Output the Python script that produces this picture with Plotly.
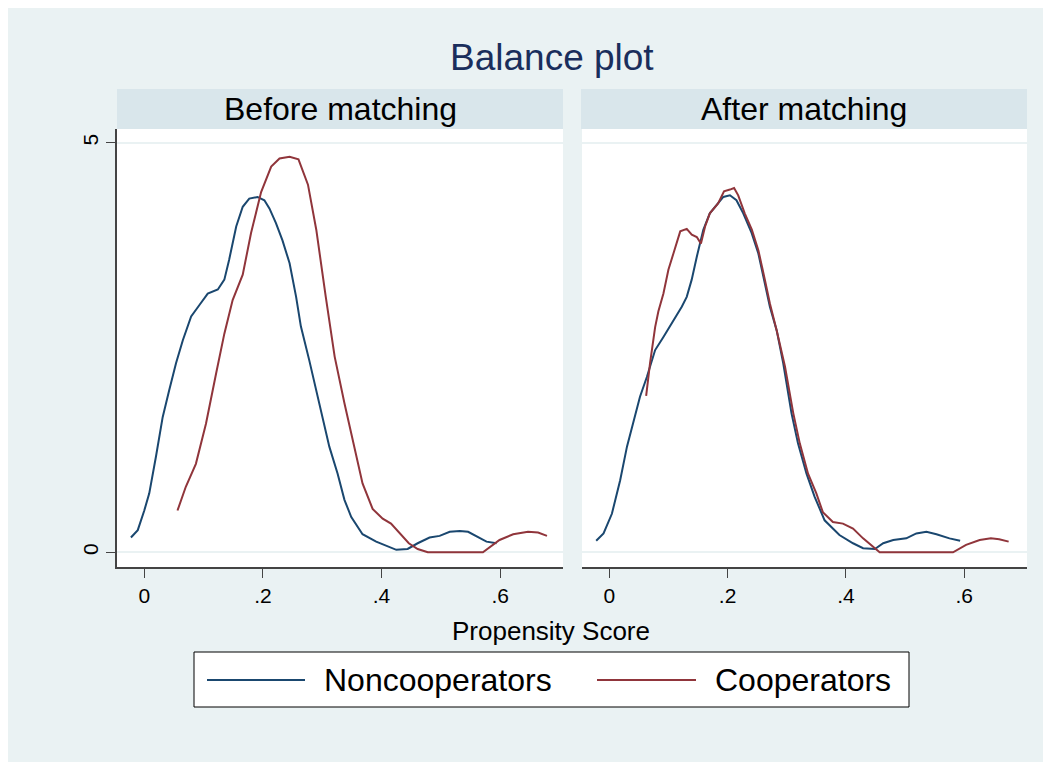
import plotly.graph_objects as go

# Kernel density of the propensity score
before_non_x = [-0.0225, -0.011, 0.0, 0.0084, 0.0197, 0.031, 0.042, 0.0535, 0.065, 0.079, 0.093,
                0.107, 0.124, 0.135, 0.143, 0.155, 0.166, 0.177, 0.191, 0.2025, 0.211, 0.222,
                0.233, 0.245, 0.256, 0.264, 0.278, 0.29, 0.301, 0.312, 0.326, 0.3375, 0.349,
                0.368, 0.391, 0.4135, 0.425, 0.444, 0.461, 0.481, 0.498, 0.515, 0.532, 0.546,
                0.562, 0.577, 0.594]
before_non_y = [0.18, 0.27, 0.51, 0.72, 1.17, 1.65, 1.98, 2.31, 2.59, 2.88, 3.02,
                3.16, 3.21, 3.33, 3.57, 3.98, 4.22, 4.32, 4.34, 4.30, 4.20, 4.02,
                3.81, 3.53, 3.12, 2.76, 2.35, 1.98, 1.65, 1.29, 0.96, 0.64, 0.43,
                0.22, 0.13, 0.07, 0.03, 0.04, 0.11, 0.18, 0.20, 0.25, 0.26, 0.25,
                0.19, 0.13, 0.11]

before_coop_x = [0.056, 0.070, 0.087, 0.104, 0.121, 0.135, 0.149, 0.166, 0.180, 0.197, 0.214,
                 0.228, 0.245, 0.26, 0.276, 0.29, 0.306, 0.321, 0.3375, 0.354, 0.368, 0.385,
                 0.402, 0.416, 0.436, 0.446, 0.461, 0.478, 0.50, 0.53, 0.571, 0.599, 0.622,
                 0.647, 0.664, 0.679]
before_coop_y = [0.51, 0.80, 1.08, 1.57, 2.18, 2.67, 3.08, 3.39, 3.90, 4.40, 4.71,
                 4.81, 4.83, 4.80, 4.49, 3.94, 3.12, 2.39, 1.82, 1.29, 0.84, 0.53,
                 0.41, 0.35, 0.19, 0.11, 0.04, 0.0, 0.0, 0.0, 0.0, 0.15, 0.22,
                 0.25, 0.24, 0.20]

after_non_x = [-0.022, -0.0096, 0.0045, 0.0185, 0.030, 0.041, 0.052, 0.0636, 0.0776, 0.0916,
               0.1057, 0.1226, 0.131, 0.1394, 0.148, 0.159, 0.170, 0.1816, 0.1928, 0.204,
               0.215, 0.2265, 0.2406, 0.252, 0.263, 0.2715, 0.283, 0.294, 0.308, 0.319,
               0.3334, 0.347, 0.364, 0.389, 0.412, 0.429, 0.449, 0.463, 0.48, 0.502,
               0.519, 0.536, 0.553, 0.575, 0.593]
after_non_y = [0.14, 0.23, 0.47, 0.88, 1.29, 1.61, 1.90, 2.14, 2.47, 2.63,
               2.80, 3.00, 3.12, 3.33, 3.61, 3.94, 4.14, 4.24, 4.34, 4.36,
               4.30, 4.14, 3.90, 3.65, 3.28, 3.00, 2.71, 2.31, 1.70, 1.33,
               0.96, 0.68, 0.39, 0.21, 0.11, 0.05, 0.04, 0.11, 0.15, 0.17,
               0.23, 0.25, 0.22, 0.17, 0.14]

after_coop_x = [0.0624, 0.069, 0.0776, 0.083, 0.0916, 0.100, 0.1085, 0.120, 0.131, 0.1395,
                0.148, 0.155, 0.162, 0.170, 0.184, 0.194, 0.204, 0.211, 0.218, 0.229,
                0.241, 0.252, 0.263, 0.2715, 0.283, 0.297, 0.311, 0.322, 0.336, 0.350,
                0.361, 0.378, 0.395, 0.412, 0.429, 0.449, 0.457, 0.50, 0.54, 0.581,
                0.603, 0.626, 0.645, 0.659, 0.675]
after_coop_y = [1.91, 2.31, 2.75, 2.94, 3.16, 3.45, 3.65, 3.92, 3.95, 3.88,
                3.85, 3.77, 3.98, 4.14, 4.26, 4.41, 4.43, 4.45, 4.36, 4.14,
                3.94, 3.69, 3.33, 3.04, 2.71, 2.27, 1.70, 1.33, 0.96, 0.72,
                0.49, 0.37, 0.35, 0.29, 0.17, 0.05, 0.0, 0.0, 0.0, 0.0,
                0.09, 0.15, 0.17, 0.16, 0.13]

x_ticks = [0, 0.2, 0.4, 0.6]
x_tick_labels = ["0", ".2", ".4", ".6"]
y_ticks = [0, 5]

NAVY = "#1a476f"
MAROON = "#90353b"
BG = "#eaf2f3"
STRIP = "#d9e6eb"
FONT = "Arial, Liberation Sans, sans-serif"

# the page adds an 8px body margin; positions below are page pixels
OFF = 8
W, H = 1051, 754
L, T = 117 - OFF, 129 - OFF
R = W - (1027 - OFF)
B = H - (567 - OFF)
PW, PH = W - L - R, H - T - B


def px(x):
    return (x - OFF - L) / PW


def py(y):
    return (H - B - (y - OFF)) / PH


fig = go.Figure()

panels = [
    ("x", "y", before_non_x, before_non_y, before_coop_x, before_coop_y),
    ("x2", "y2", after_non_x, after_non_y, after_coop_x, after_coop_y),
]
for xa, ya, nx, ny, cx, cy in panels:
    fig.add_trace(go.Scatter(x=nx, y=ny, mode="lines", name="Noncooperators",
                             line=dict(color=NAVY, width=2), xaxis=xa, yaxis=ya,
                             showlegend=False))
    fig.add_trace(go.Scatter(x=cx, y=cy, mode="lines", name="Cooperators",
                             line=dict(color=MAROON, width=2), xaxis=xa, yaxis=ya,
                             showlegend=False))

xaxis_common = dict(
    range=[-0.046, 0.706], tickvals=x_ticks, ticktext=x_tick_labels,
    showline=True, linecolor="#444444", linewidth=1.5,
    ticks="outside", ticklen=9, tickcolor="#444444", tickwidth=1.2,
    showgrid=False, zeroline=False,
    tickfont=dict(family=FONT, size=21, color="black"),
)
yaxis_common = dict(
    range=[-0.18, 5.17], tickvals=y_ticks,
    showgrid=True, gridcolor=BG, gridwidth=2, zeroline=False,
)

fig.update_layout(
    width=W, height=H,
    margin=dict(l=L, r=R, t=T, b=B),
    paper_bgcolor=BG, plot_bgcolor="white",
    showlegend=False,
    xaxis=dict(domain=[0, px(563)], anchor="y", **xaxis_common),
    xaxis2=dict(domain=[px(582), 1], anchor="y2", **xaxis_common),
    yaxis=dict(anchor="x", showline=True, linecolor="#444444", linewidth=1.5,
               ticks="outside", ticklen=9, tickcolor="#444444", tickwidth=1.2,
               tickangle=-90, tickfont=dict(family=FONT, size=21, color="black"),
               **yaxis_common),
    yaxis2=dict(anchor="x2", showline=False, ticks="", showticklabels=False,
                **yaxis_common),
)

shapes = [
    # panel strips
    dict(type="rect", xref="paper", yref="paper", x0=px(117), x1=px(563), y0=py(129), y1=py(89),
         fillcolor=STRIP, line=dict(width=0)),
    dict(type="rect", xref="paper", yref="paper", x0=px(581), x1=px(1027), y0=py(129), y1=py(89),
         fillcolor=STRIP, line=dict(width=0)),
    # legend box and keys
    dict(type="rect", xref="paper", yref="paper", x0=px(194), x1=px(909), y0=py(707), y1=py(652),
         fillcolor="white", line=dict(color="black", width=1)),
    dict(type="line", xref="paper", yref="paper", x0=px(207), x1=px(305), y0=py(680), y1=py(680),
         line=dict(color=NAVY, width=2)),
    dict(type="line", xref="paper", yref="paper", x0=px(597), x1=px(696), y0=py(680), y1=py(680),
         line=dict(color=MAROON, width=2)),
]
fig.update_layout(shapes=shapes)

annotations = [
    dict(text="Balance plot", x=px(552), y=py(57), font=dict(size=37, color="#1a2e5c")),
    dict(text="Before matching", x=px(340), y=py(109), font=dict(size=32, color="black")),
    dict(text="After matching", x=px(804), y=py(109), font=dict(size=32, color="black")),
    dict(text="Propensity Score", x=px(551), y=py(631), font=dict(size=26, color="black")),
    dict(text="Noncooperators", x=px(322), y=py(680), xanchor="left",
         font=dict(size=32, color="black")),
    dict(text="Cooperators", x=px(713), y=py(680), xanchor="left",
         font=dict(size=32, color="black")),
]
for a in annotations:
    a.setdefault("xanchor", "center")
    a["xref"] = "paper"
    a["yref"] = "paper"
    a["yanchor"] = "middle"
    a["showarrow"] = False
    a["font"]["family"] = FONT
fig.update_layout(annotations=annotations)

fig.write_html("out.html")
